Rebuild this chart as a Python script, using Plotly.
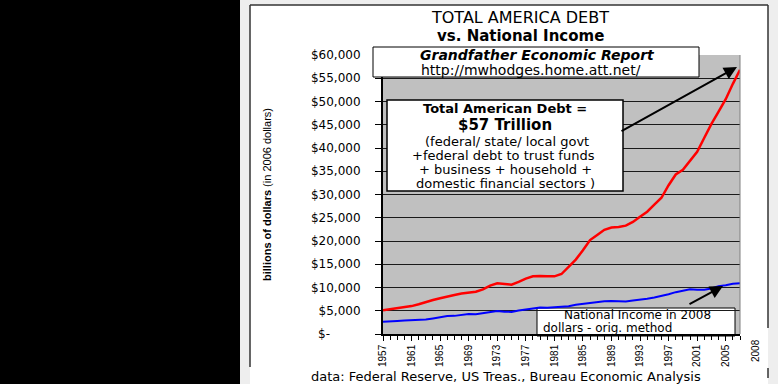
import plotly.graph_objects as go

# ---------------- data ----------------
years = list(range(1957, 2008))
total_debt = [5100, 5300, 5500, 5700, 6000, 6400, 6900, 7300, 7700, 8100,
              8400, 8700, 8900, 9100, 9600, 10400, 10900, 10700, 10600, 11200,
              11900, 12400, 12500, 12400, 12400, 12900, 14400, 16000, 18000, 20200,
              21300, 22400, 22900, 23000, 23300, 24100, 25200, 26300, 27800, 29300,
              32000, 34300, 35300, 37200, 39200, 42200, 45200, 47800, 50500, 53800,
              56800]
national_income = [2650, 2650, 2800, 2900, 2950, 3050, 3100, 3350, 3650, 3850,
                   3900, 4100, 4300, 4250, 4450, 4700, 4950, 4800, 4750, 5050,
                   5300, 5550, 5700, 5650, 5750, 5700, 5950, 6300, 6500, 6650,
                   6850, 7050, 7100, 7100, 7000, 7200, 7350, 7600, 7850, 8150,
                   8550, 9000, 9300, 9600, 9500, 9500, 9800, 10300, 10500, 10800,
                   10900]
y_tick_vals = list(range(0, 60001, 5000))
y_tick_text = ["$-" + "\u00a0" * 8] + [f"${v:,}" for v in y_tick_vals[1:]]
x_first_label, x_label_step = 1957, 4
extra_x_label = "2008"

# ---------------- geometry helpers (pixels -> paper) ----------------
W, H = 778, 384
L, R, T, B = 383, 740, 55, 334


def px(x):
    return (x - L) / (R - L)


def py(y):
    return 1 - (y - T) / (B - T)


FONT = "DejaVu Sans"
NFONT = "Liberation Sans"

fig = go.Figure()
fig.add_trace(go.Scatter(x=years, y=total_debt, mode="lines",
                         line=dict(color="#ff0000", width=2.5), showlegend=False,
                         hoverinfo="skip"))
fig.add_trace(go.Scatter(x=years, y=national_income, mode="lines",
                         line=dict(color="#0000ff", width=2), showlegend=False,
                         hoverinfo="skip"))

shapes = []


def rect(x0, y0, x1, y1, fill, lc=None, lw=0, layer="below"):
    shapes.append(dict(type="rect", xref="paper", yref="paper",
                       x0=px(x0), x1=px(x1), y0=py(y1), y1=py(y0),
                       fillcolor=fill, line=dict(color=lc or fill, width=lw),
                       layer=layer))


def line(x0, y0, x1, y1, color="#333333", width=1.5, layer="above"):
    shapes.append(dict(type="line", xref="paper", yref="paper",
                       x0=px(x0), x1=px(x1), y0=py(y0), y1=py(y1),
                       line=dict(color=color, width=width), layer=layer))


rect(0, 0, 240, 384, "black")
rect(240, 0, 250, 384, "#eeeeee")
rect(250, 0, 778, 5, "#eeeeee")
rect(768, 5, 778, 384, "#eeeeee")
line(250, 5, 250, 367)
line(250, 5, 768, 5)
line(768, 5, 768, 328)
line(768, 368, 768, 378)
line(740, 55, 740, 334, color="#808080", width=1)
rect(373, 47, 699, 77, "white", "black", 1, "above")
rect(387, 100, 623, 191, "white", "black", 1.5, "above")
rect(537, 308, 735, 336, "white", "black", 1, "between")

ann = []


def text(t, x, y, size, family=FONT, xanchor="center", angle=0):
    ann.append(dict(text=t, xref="paper", yref="paper", x=px(x), y=py(y),
                    xanchor=xanchor, yanchor="middle", showarrow=False,
                    textangle=angle,
                    font=dict(family=family, size=size, color="black")))


text("TOTAL AMERICA DEBT", 520, 18, 16)
text("<b>vs. National Income</b>", 520, 36, 15)
text("<b><i>Grandfather Economic Report</i></b>", 537, 55, 14)
text("http://mwhodges.home.att.net/", 531, 70, 14)
text("<b>Total American Debt =</b>", 505, 108, 13)
text("<b>$57 Trillion</b>", 505, 125, 15)
text("(federal/ state/ local govt", 507, 141, 13)
text("+federal debt to trust funds", 503, 155, 13)
text("+ business + household +", 505, 169, 13)
text("domestic financial sectors )", 505, 183, 13)
text("National Income in 2008", 637, 315, 12)
text("dollars - orig. method", 541, 328, 12, xanchor="left")
text("data: Federal Reserve, US Treas., Bureau Economic Analysis", 506, 376, 13)
text("<b>billions of dollars</b> (in 2006 dollars)", 267, 195, 11, NFONT, angle=-90)
text(extra_x_label, 755, 351, 10, NFONT, angle=-90)


def arrow(hx, hy, tx, ty):
    ann.append(dict(text="", xref="paper", yref="paper", x=px(hx), y=py(hy),
                    ax=tx - hx, ay=ty - hy, showarrow=True, arrowhead=2,
                    arrowsize=1.3, arrowwidth=2, arrowcolor="black", standoff=0))


arrow(737, 67, 620, 132)
arrow(723, 286, 688, 305)

fig.update_layout(
    width=W, height=H,
    margin=dict(l=L, r=W - R, t=T, b=H - B, pad=0),
    paper_bgcolor="white", plot_bgcolor="#c0c0c0",
    shapes=shapes, annotations=ann, showlegend=False,
    xaxis=dict(range=[years[0], years[-1]], tickmode="linear",
               tick0=x_first_label, dtick=x_label_step, tickangle=-90,
               ticks="outside", ticklen=5, tickcolor="black", tickwidth=1,
               showline=True, linecolor="black", linewidth=1.5,
               showgrid=False, zeroline=False,
               tickfont=dict(family=NFONT, size=10, color="black"),
               minor=dict(dtick=1, ticks="outside", ticklen=4,
                          tickcolor="black", showgrid=False)),
    yaxis=dict(range=[0, 60000], tickmode="array", tickvals=y_tick_vals,
               ticktext=y_tick_text, ticks="outside", ticklen=6,
               tickcolor="black", showline=True, linecolor="black",
               linewidth=2, showgrid=True, gridcolor="#1a1a1a", gridwidth=1,
               zeroline=False, ticklabelstandoff=12,
               tickfont=dict(family=FONT, size=12, color="black")),
)

fig.write_html("out.html",
               config={"displayModeBar": False},
               post_script="document.body.style.margin='0px';"
                           "document.body.style.padding='0px';")
